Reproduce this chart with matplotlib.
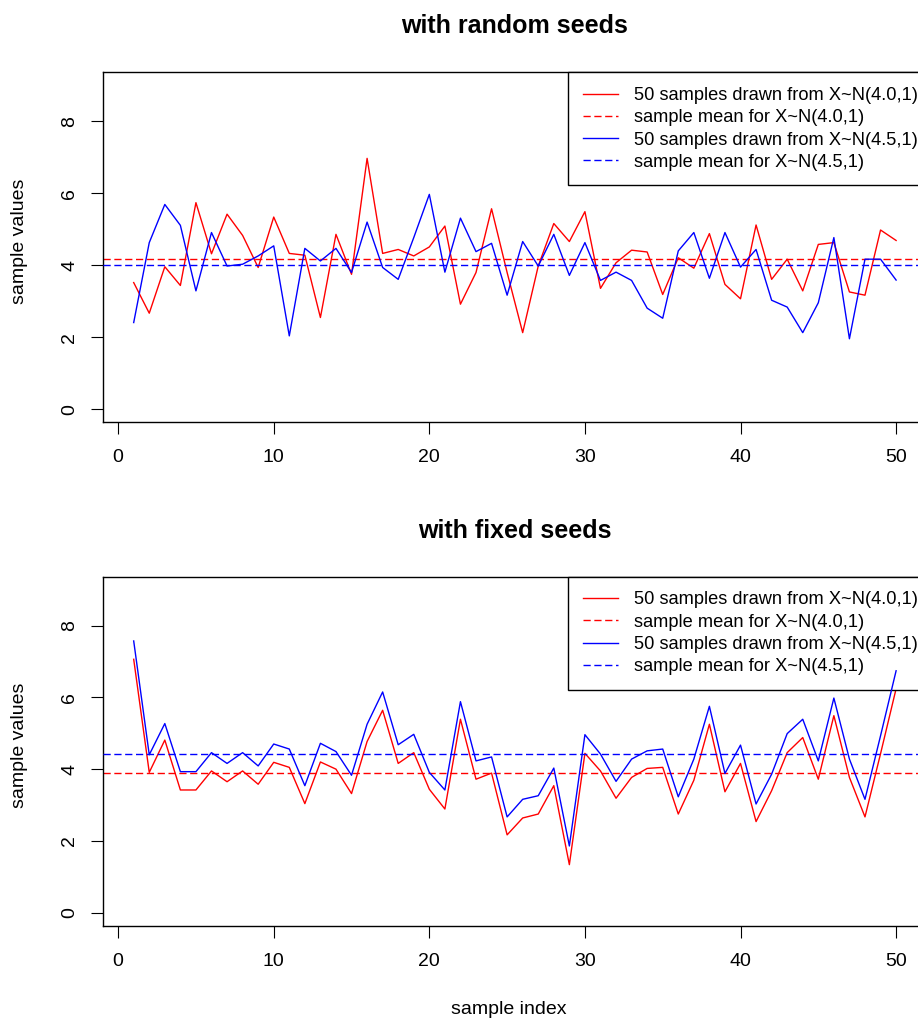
import numpy as np
import matplotlib
matplotlib.use("Agg")
import matplotlib.pyplot as plt

plt.rcParams['font.family'] = ['Liberation Sans', 'DejaVu Sans']

# ---------------- data ----------------
sample_index = list(range(1, 51))

random_red = [3.52, 2.67, 3.96, 3.44, 5.74, 4.32, 5.42, 4.83, 3.94, 5.34,
              4.33, 4.28, 2.55, 4.86, 3.75, 6.97, 4.33, 4.44, 4.26, 4.51,
              5.09, 2.92, 3.80, 5.57, 3.80, 2.13, 3.98, 5.16, 4.66, 5.49,
              3.36, 4.07, 4.42, 4.37, 3.19, 4.21, 3.92, 4.88, 3.47, 3.07,
              5.12, 3.61, 4.17, 3.29, 4.58, 4.63, 3.26, 3.17, 4.98, 4.69]
random_blue = [2.41, 4.63, 5.69, 5.11, 3.29, 4.91, 3.98, 4.03, 4.26, 4.54,
               2.04, 4.47, 4.12, 4.47, 3.80, 5.20, 3.94, 3.61, 4.77, 5.97,
               3.81, 5.31, 4.38, 4.61, 3.17, 4.66, 3.98, 4.86, 3.72, 4.63,
               3.58, 3.81, 3.58, 2.81, 2.53, 4.40, 4.91, 3.64, 4.91, 3.95,
               4.44, 3.03, 2.84, 2.13, 2.96, 4.77, 1.96, 4.17, 4.17, 3.59]
random_means = [4.18, 4.00]   # red, blue

fixed_red = [7.06, 3.91, 4.81, 3.42, 3.42, 3.95, 3.65, 3.95, 3.58, 4.19,
             4.05, 3.04, 4.20, 4.00, 3.32, 4.77, 5.64, 4.16, 4.46, 3.44,
             2.89, 5.39, 3.72, 3.89, 2.17, 2.64, 2.75, 3.54, 1.34, 4.44,
             3.95, 3.19, 3.77, 4.02, 4.05, 2.75, 3.69, 5.25, 3.37, 4.16,
             2.54, 3.40, 4.46, 4.88, 3.72, 5.49, 3.77, 2.67, 4.43, 6.24]
fixed_blue = [7.57, 4.40, 5.27, 3.93, 3.93, 4.46, 4.16, 4.46, 4.09, 4.70,
              4.56, 3.54, 4.72, 4.49, 3.83, 5.25, 6.15, 4.68, 4.97, 3.91,
              3.42, 5.88, 4.23, 4.34, 2.67, 3.16, 3.26, 4.03, 1.86, 4.96,
              4.42, 3.66, 4.28, 4.51, 4.56, 3.23, 4.28, 5.75, 3.88, 4.67,
              3.03, 3.86, 4.99, 5.39, 4.23, 5.98, 4.28, 3.16, 4.93, 6.74]
fixed_means = [3.90, 4.41]    # red, blue

titles = ["with random seeds", "with fixed seeds"]
legend_labels = ["50 samples drawn from X~N(4.0,1)",
                 "sample mean for X~N(4.0,1)",
                 "50 samples drawn from X~N(4.5,1)",
                 "sample mean for X~N(4.5,1)"]
x_ticks = [0, 10, 20, 30, 40, 50]
y_ticks = [0, 2, 4, 6, 8]

# ---------------- figure ----------------
W, H = 918, 1025
fig = plt.figure(figsize=(W / 100, H / 100), dpi=100)

def frac_rect(left, top, right, bottom):
    return [left / W, 1 - bottom / H, (right - left) / W, (bottom - top) / H]

rects = [frac_rect(103.2, 72.3, 926.6, 422.3),
         frac_rect(103.2, 576.7, 926.6, 925.7)]
datasets = [(random_red, random_blue, random_means),
            (fixed_red, fixed_blue, fixed_means)]

DASH = (5.2, 2.6)

for k, (rect, (red, blue, means)) in enumerate(zip(rects, datasets)):
    ax = fig.add_axes(rect)
    l_red, = ax.plot(sample_index, red, color='#FF0000', lw=1.0, zorder=2)
    l_red_m = ax.axhline(means[0], color='#FF0000', lw=1.0, dashes=DASH, zorder=2)
    l_blue, = ax.plot(sample_index, blue, color='#0000FF', lw=1.0, zorder=6)
    l_blue_m = ax.axhline(means[1], color='#0000FF', lw=1.0, dashes=DASH, zorder=6)

    ax.set_xlim(-0.96, 51.96)
    ax.set_ylim(-0.36, 9.36)
    ax.set_xticks(x_ticks)
    ax.set_yticks(y_ticks)
    ax.tick_params(axis='both', direction='out', length=8.3, width=0.8,
                   colors='black', labelsize=14)
    ax.tick_params(axis='x', pad=11)
    ax.tick_params(axis='y', pad=9.5)
    for lab in ax.get_yticklabels():
        lab.set_rotation(90)
        lab.set_va('center')
        lab.set_ha('right')
    for sp in ax.spines.values():
        sp.set_linewidth(1.0)
        sp.set_color('black')

    ax.set_title(titles[k], fontsize=18, fontweight='bold', pad=28)
    ax.set_ylabel("sample values", fontsize=14)
    ax.yaxis.set_label_coords(-0.091, 0.517)
    if k == 1:
        ax.set_xlabel("sample index", fontsize=14)
        ax.xaxis.set_label_coords(0.493, -0.217)

    leg = ax.legend([l_red, l_red_m, l_blue, l_blue_m], legend_labels,
                    loc='upper right', bbox_to_anchor=(1.0 + 6 / 823.4, 1.0),
                    borderaxespad=0.0, fontsize=13.15, borderpad=0.8,
                    labelspacing=0.29, handlelength=1.92, handletextpad=0.88,
                    fancybox=False, framealpha=1.0, edgecolor='black')
    leg.get_frame().set_linewidth(1.0)
    leg.set_zorder(5)

fig.savefig("out.png", dpi=100)
